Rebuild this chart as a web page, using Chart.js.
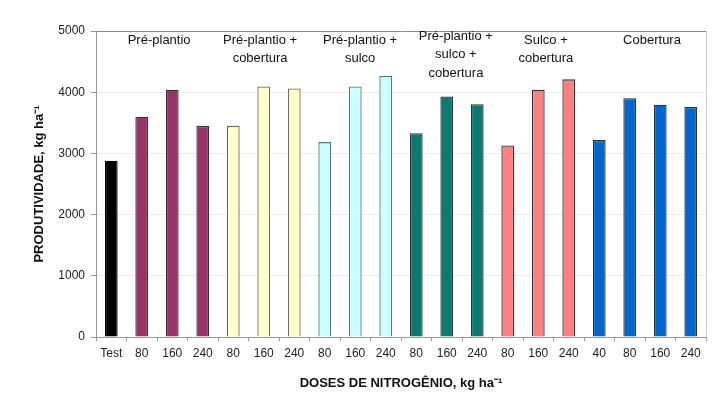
<!DOCTYPE html>
<html><head><meta charset="utf-8">
<script src="https://cdn.jsdelivr.net/npm/chart.js@4.4.1/dist/chart.umd.min.js"></script>
<style>html,body{margin:0;padding:0;background:#fff}#w{width:728px;height:397px}</style>
</head><body><div id="w"><canvas id="c"></canvas></div>
<script>
const categories = ['Test','80','160','240','80','160','240','80','160','240','80','160','240','80','160','240','40','80','160','240'];
const values = [2880,3600,4040,3450,3450,4095,4060,3185,4095,4265,3330,3930,3805,3130,4040,4210,3220,3900,3795,3760];
const barGroup = [0,1,1,1,2,2,2,3,3,3,4,4,4,5,5,5,6,6,6,6];
const groupNames = [null, ['Pré-plantio'], ['Pré-plantio +','cobertura'], ['Pré-plantio +','sulco'], ['Pré-plantio +','sulco +','cobertura'], ['Sulco +','cobertura'], ['Cobertura']];
const groupColors = ['#000000','#993366','#FFFFCC','#CCFFFF','#0E7A6F','#FF8080','#0066CC'];
const yTicks = [0,1000,2000,3000,4000,5000];

const FONT = '"Liberation Sans", Arial, sans-serif';
const labelPos = [null,1.57,4.88,8.16,11.30,14.25,17.73];
const labelTop = [null,40,40,40,36,40,40];

const groupLabels = {
  id:'groupLabels',
  afterDatasetsDraw(chart){
    const ctx = chart.ctx, x = chart.scales.x;
    ctx.save();
    ctx.font = '13px ' + FONT;
    ctx.fillStyle = '#111';
    ctx.textAlign = 'center';
    ctx.textBaseline = 'middle';
    for (let g=1; g<groupNames.length; g++){
      const px = x.getPixelForValue(labelPos[g]);
      groupNames[g].forEach((t,i)=>ctx.fillText(t, px, labelTop[g] + i*18.5));
    }
    ctx.restore();
  }
};

new Chart(document.getElementById('c'), {
  type:'bar',
  data:{
    labels:categories,
    datasets:[{
      data:values,
      backgroundColor: barGroup.map(g=>groupColors[g]),
      borderColor: barGroup.map(g=>g===0?'#000':(g===2?'#6b6b55':(g===3?'#5a7a7a':'#333'))),
      borderWidth:1.3,
      barPercentage:0.42,
      categoryPercentage:1
    }]
  },
  options:{
    responsive:true, maintainAspectRatio:false, animation:false,
    layout:{padding:{top:31,right:22,bottom:0,left:0}},
    plugins:{legend:{display:false}, tooltip:{enabled:false}},
    scales:{
      x:{
        grid:{offset:true, drawOnChartArea:false, color:'#999', tickLength:4},
        border:{color:'#999'},
        ticks:{color:'#222', font:{family:FONT,size:12}, padding:5, maxRotation:0, autoSkip:false},
        title:{display:true, text:'DOSES DE NITROGÊNIO, kg ha⁻¹', color:'#111', font:{family:FONT,size:13,weight:'bold'}, padding:{top:8,bottom:6}},
        afterFit(s){ s.height = 60; }
      },
      y:{
        min:0, max:5000,
        afterBuildTicks(s){ s.ticks = yTicks.map(v=>({value:v})); },
        grid:{color:(c)=>c.tick && c.tick.value===5000 ? '#888' : '#ececec', tickLength:5, tickColor:'#999'},
        border:{color:'#999'},
        ticks:{color:'#222', font:{family:FONT,size:12}, padding:6, callback:(v)=>String(v)},
        title:{display:true, text:'PRODUTIVIDADE, kg ha⁻¹', color:'#111', font:{family:FONT,size:13,weight:'bold'}, padding:{top:32,bottom:0}},
        afterFit(s){ s.width = 96; }
      }
    }
  },
  plugins:[groupLabels, {
    id:'rightBorder',
    afterDraw(chart){
      const a = chart.chartArea, ctx = chart.ctx;
      ctx.save(); ctx.strokeStyle='#ccc'; ctx.lineWidth=1;
      ctx.beginPath(); ctx.moveTo(a.right+0.5,a.top); ctx.lineTo(a.right+0.5,a.bottom); ctx.stroke();
      ctx.restore();
    }
  }]
});
</script></body></html>
